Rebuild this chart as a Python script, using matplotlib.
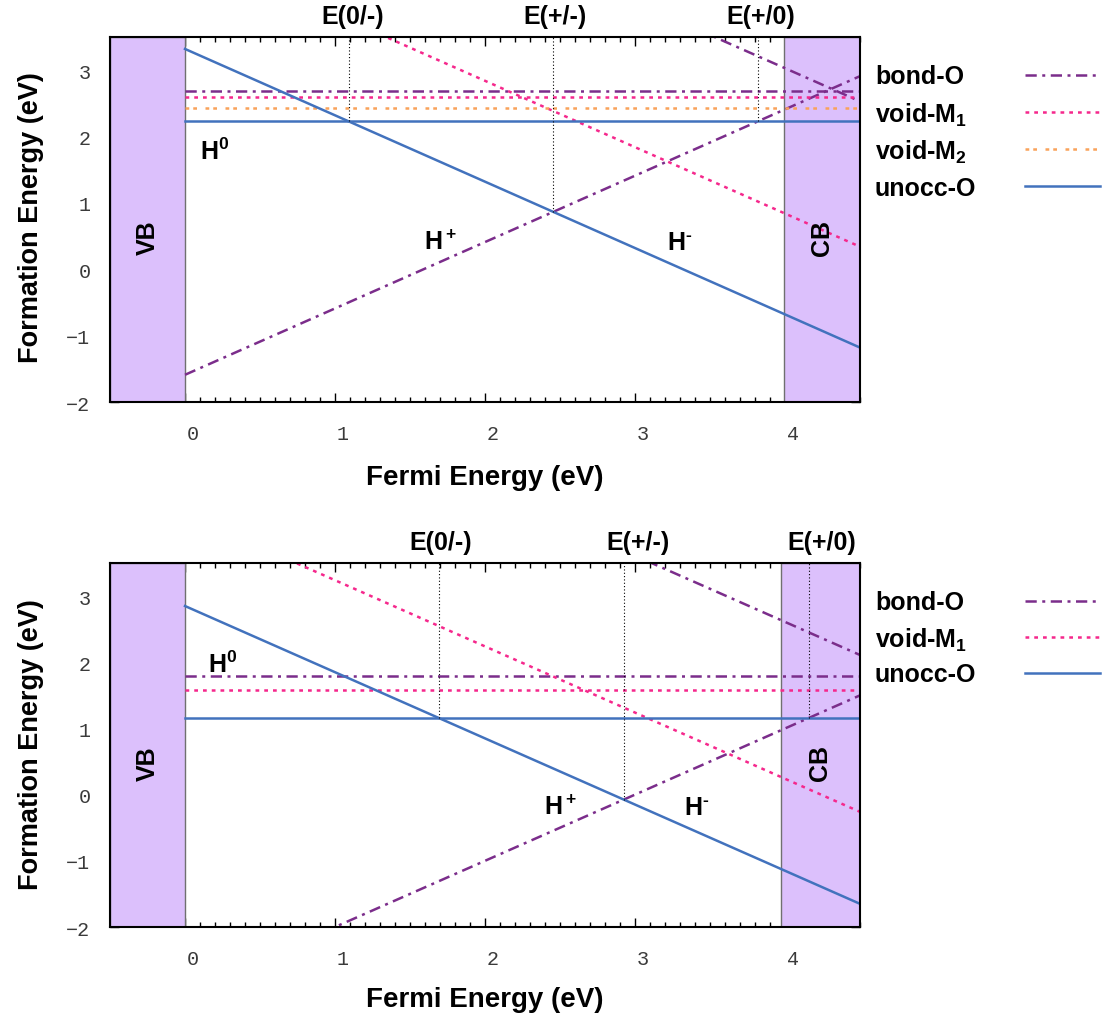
import numpy as np
import matplotlib
matplotlib.use("Agg")
import matplotlib.pyplot as plt
from matplotlib.lines import Line2D
from matplotlib.ticker import MultipleLocator

plt.rcParams["font.family"] = ["Liberation Sans", "DejaVu Sans"]
plt.rcParams["mathtext.fontset"] = "custom"
plt.rcParams["mathtext.rm"] = "Liberation Sans:bold"
plt.rcParams["mathtext.it"] = "Liberation Sans:bold"
plt.rcParams["mathtext.bf"] = "Liberation Sans:bold"
plt.rcParams["mathtext.default"] = "bf"

W, H = 1106, 1021
DPI = 100

# ---- common axis settings -------------------------------------------------
fermi_window = [-0.5, 4.5]
energy_window = [-2.0, 3.5]
x_ticks = [0, 1, 2, 3, 4]
y_ticks = [-2, -1, 0, 1, 2, 3]

# ---- upper panel: formation energies at E_F = 0 (eV) ----------------------
gap_a = 3.99
sites_a = ["bond-O", "void-M1", "void-M2", "unocc-O"]
labels_a = ["bond-O", "void-M$_1$", "void-M$_2$", "unocc-O"]
neutral_a = [2.69, 2.60, 2.43, 2.23]     # H0
minus_a = [7.03, 4.84, None, 3.32]       # H-  (slope -1)
plus_a = [-1.59, None, None, None]       # H+  (slope +1)

# ---- lower panel ----------------------------------------------------------
gap_b = 3.97
sites_b = ["bond-O", "void-M1", "unocc-O"]
labels_b = ["bond-O", "void-M$_1$", "unocc-O"]
neutral_b = [1.79, 1.58, 1.16]
minus_b = [6.61, 4.24, 2.85]
plus_b = [-3.00, None, None]

styles = {
    "bond-O": dict(color="#7b2d8b", ls=(0, (4.5, 2.2, 1.2, 2.2))),
    "void-M1": dict(color="#f5288c", ls=(0, (1.5, 2.0))),
    "void-M2": dict(color="#f9a25b", ls=(0, (1.5, 1.6, 1.5, 3.4))),
    "unocc-O": dict(color="#4272bd", ls="-"),
}
LW = 1.8
BAND_COLOR = "#dcc0fc"
TICK_FONT = dict(fontsize=14.5, family="Liberation Mono", color="#3a3a3a")

fig = plt.figure(figsize=(W / DPI, H / DPI), dpi=DPI)


def px_box(left, top, right, bottom):
    return [left / W, 1 - bottom / H, (right - left) / W, (bottom - top) / H]


def draw_panel(ax, sites, labels, neutral, minus, plus, gap,
               h_labels, e_label_shift, legend_rows):
    ax.set_xlim(fermi_window)
    ax.set_ylim(energy_window)

    # valence / conduction band regions
    ax.axvspan(fermi_window[0], 0, facecolor=BAND_COLOR, edgecolor="#707070",
               lw=1.0, zorder=2.6)
    ax.axvspan(gap, fermi_window[1], facecolor=BAND_COLOR, edgecolor="#707070",
               lw=1.0, zorder=2.6)

    xs = np.array([0.0, fermi_window[1]])
    for site, e0, em, ep in zip(sites, neutral, minus, plus):
        st = styles[site]
        ax.plot(xs, [e0, e0], color=st["color"], ls=st["ls"], lw=LW, zorder=3)
        if em is not None:
            ax.plot(xs, em - xs, color=st["color"], ls=st["ls"], lw=LW, zorder=3)
        if ep is not None:
            ax.plot(xs, ep + xs, color=st["color"], ls=st["ls"], lw=LW, zorder=3)

    # thermodynamic transition levels from the lowest-energy configurations
    e0_min = min(neutral)
    em_min = min(v for v in minus if v is not None)
    ep_min = min(v for v in plus if v is not None)
    levels = [
        ("E(0/-)", em_min - e0_min, e0_min),
        ("E(+/-)", (em_min - ep_min) / 2, (em_min + ep_min) / 2),
        ("E(+/0)", e0_min - ep_min, e0_min),
    ]
    for (name, lvl, e_cross), shift in zip(levels, e_label_shift):
        ax.plot([lvl, lvl], [e_cross, energy_window[1]], color="black",
                lw=0.8, ls=(0, (1, 2)), zorder=3)
        ax.annotate(name, xy=(lvl, 1), xycoords=("data", "axes fraction"),
                    xytext=(shift, 14.5), textcoords="offset points",
                    ha="center", va="center", fontsize=18, fontweight="bold",
                    annotation_clip=False)

    # charge-state labels
    for txt, (hx, hy) in h_labels:
        ax.text(hx, hy, txt, ha="center", va="center", fontsize=18,
                fontweight="bold", zorder=4)

    # band labels, centred in each shaded region
    band_tf = ax.get_xaxis_transform()
    ax.text((fermi_window[0] + 0) / 2, 0.45, "VB", rotation=90, ha="center",
            va="center", fontsize=18, fontweight="bold", transform=band_tf,
            zorder=4)
    ax.text((gap + fermi_window[1]) / 2, 0.45, "CB", rotation=90, ha="center",
            va="center", fontsize=18, fontweight="bold", transform=band_tf,
            zorder=4)

    # ticks
    ax.set_xticks(x_ticks)
    ax.xaxis.set_minor_locator(MultipleLocator(0.1))
    ax.set_yticks(y_ticks)
    ax.yaxis.set_minor_locator(MultipleLocator(0.5))
    ax.tick_params(which="both", direction="in", top=True, right=True,
                   labelbottom=False, labelleft=False, width=1.0, color="black")
    ax.tick_params(which="major", length=6.5)
    ax.tick_params(which="minor", length=3.5)
    for t in x_ticks:
        ax.annotate(str(t), xy=(t, 0), xycoords=("data", "axes fraction"),
                    xytext=(5.8, -23.5), textcoords="offset points",
                    ha="center", va="center", annotation_clip=False,
                    **TICK_FONT)
    for t in y_ticks:
        lab = str(t).replace("-", "\u2212")
        ax.annotate(lab, xy=(0, t), xycoords=("axes fraction", "data"),
                    xytext=(-14.0, -2.2), textcoords="offset points",
                    ha="right", va="center", annotation_clip=False,
                    **TICK_FONT)

    for sp in ax.spines.values():
        sp.set_linewidth(1.5)
        sp.set_zorder(5)

    # key
    for (lab, site), y in zip(zip(labels, sites), legend_rows):
        st = styles[site]
        fig.text(875 / W, 1 - y / H, lab, ha="left", va="center_baseline",
                 fontsize=18, fontweight="bold")
        fig.add_artist(Line2D([1025 / W, 1100 / W], [1 - y / H, 1 - y / H],
                              color=st["color"], ls=st["ls"], lw=LW,
                              transform=fig.transFigure))


ax1 = fig.add_axes(px_box(110, 37, 860, 402))
draw_panel(ax1, sites_a, labels_a, neutral_a, minus_a, plus_a, gap_a,
           [("H$^0$", (0.20, 1.77)), ("H$^+$", (1.70, 0.40)),
            (r"H$^{\text{-}}$", (3.30, 0.40))],
           [3, 1.5, 2], [75, 112, 149, 186])

ax2 = fig.add_axes(px_box(110, 563, 860, 927))
draw_panel(ax2, sites_b, labels_b, neutral_b, minus_b, plus_b, gap_b,
           [("H$^0$", (0.25, 1.96)), ("H$^+$", (2.50, -0.20)),
            (r"H$^{\text{-}}$", (3.41, -0.20))],
           [1.5, 10, 9], [601, 637, 673])

for yc in (218, 745):
    fig.text(31 / W, 1 - yc / H, "Formation Energy (eV)", rotation=90,
             ha="center", va="center", fontsize=19.5, fontweight="bold")
for yc in (478, 1000):
    fig.text(485 / W, 1 - yc / H, "Fermi Energy (eV)", ha="center",
             va="center", fontsize=20, fontweight="bold")

fig.savefig("out.png", dpi=DPI)
